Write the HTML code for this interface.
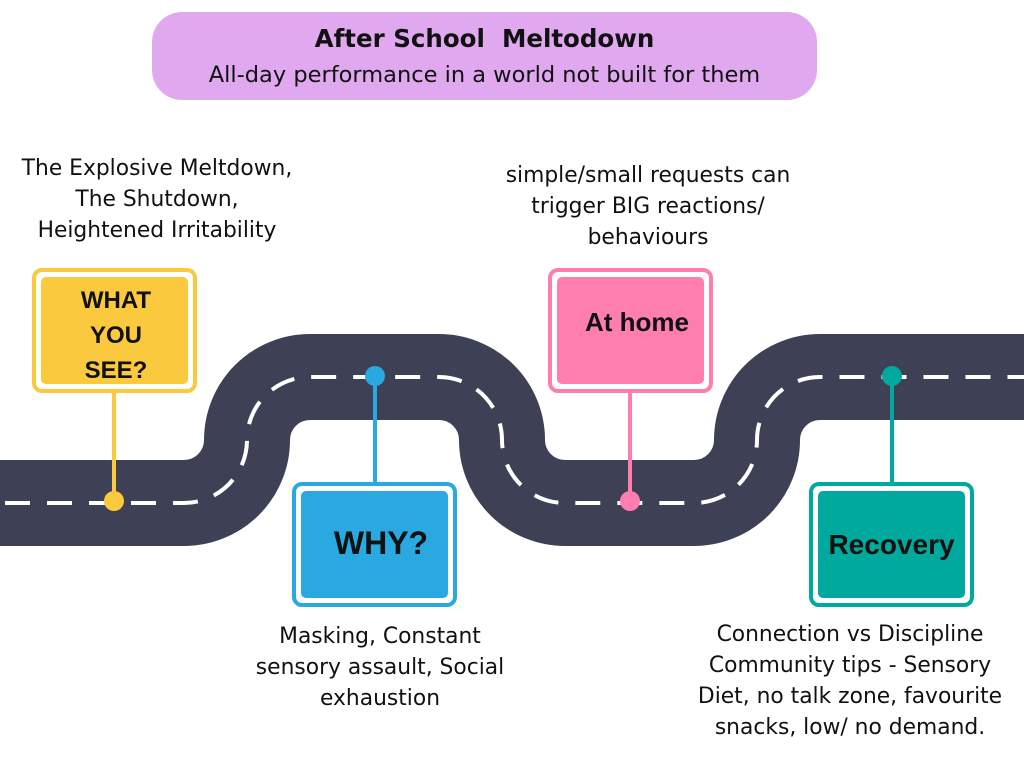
<!DOCTYPE html>
<html><head><meta charset="utf-8"><style>
body{margin:0;width:1024px;height:768px;background:#fff;overflow:hidden;font-family:"Liberation Sans",sans-serif;}
.t{position:absolute;text-align:center;color:#111;font-size:21.8px;line-height:31px;font-family:"DejaVu Sans",sans-serif;}
.b{font-family:"Liberation Sans",sans-serif;font-weight:bold;}
</style></head><body>
<svg width="1024" height="768" style="position:absolute;left:0;top:0">
<rect x="152" y="12" width="665" height="88" rx="30" fill="#e0a9ef"/>
<path d="M0 503 H184 A63 63 0 0 0 247 440 A63 63 0 0 1 310 377 H439 A63 63 0 0 1 502 440 A63 63 0 0 0 565 503 H694 A63 63 0 0 0 757 440 A63 63 0 0 1 820 377 H1030" fill="none" stroke="#3e4055" stroke-width="86"/>
<path d="M0 503 H184 A63 63 0 0 0 247 440 A63 63 0 0 1 310 377 H439 A63 63 0 0 1 502 440 A63 63 0 0 0 565 503 H694 A63 63 0 0 0 757 440 A63 63 0 0 1 820 377 H1030" fill="none" stroke="#fff" stroke-width="4" stroke-dasharray="25 17" stroke-dashoffset="-5"/>
<g stroke-width="4">
<line x1="114" y1="393" x2="114" y2="501" stroke="#fbc93d"/>
<circle cx="114" cy="501" r="10" fill="#fbc93d" stroke="none"/>
<rect x="34" y="270" width="161" height="121" rx="8" fill="#fff" stroke="#fbc93d"/>
<rect x="41" y="277" width="147" height="107" rx="5" fill="#fbc93d" stroke="none"/>
<line x1="375" y1="376" x2="375" y2="484" stroke="#2aa9e0"/>
<circle cx="375" cy="376" r="10" fill="#2aa9e0" stroke="none"/>
<rect x="294" y="484" width="161" height="121" rx="8" fill="#fff" stroke="#2aa9e0"/>
<rect x="301" y="491" width="147" height="107" rx="5" fill="#2aa9e0" stroke="none"/>
<line x1="630" y1="393" x2="630" y2="501" stroke="#ff7eb0"/>
<circle cx="630" cy="501" r="10" fill="#ff7eb0" stroke="none"/>
<rect x="550" y="270" width="161" height="121" rx="8" fill="#fff" stroke="#ff7eb0"/>
<rect x="557" y="277" width="147" height="107" rx="5" fill="#ff7eb0" stroke="none"/>
<line x1="892" y1="376" x2="892" y2="484" stroke="#00a99d"/>
<circle cx="892" cy="376" r="10" fill="#00a99d" stroke="none"/>
<rect x="811" y="484" width="161" height="121" rx="8" fill="#fff" stroke="#00a99d"/>
<rect x="818" y="491" width="147" height="107" rx="5" fill="#00a99d" stroke="none"/>
</g>
</svg>
<div class="t" style="left:152px;top:22px;width:665px;font-weight:bold;font-size:24.5px;line-height:34px">After School&nbsp; Meltodown</div>
<div class="t" style="left:152px;top:58px;width:665px;font-size:22.5px;line-height:34px">All-day performance in a world not built for them</div>
<div class="t" style="left:-10px;top:153px;width:334px">The Explosive Meltdown,<br>The Shutdown,<br>Heightened Irritability</div>
<div class="t" style="left:468px;top:160px;width:360px">simple/small requests can<br>trigger BIG reactions/<br>behaviours</div>
<div class="t" style="left:220px;top:621px;width:320px">Masking, Constant<br>sensory assault, Social<br>exhaustion</div>
<div class="t" style="left:670px;top:619px;width:360px">Connection vs Discipline<br>Community tips - Sensory<br>Diet, no talk zone, favourite<br>snacks, low/ no demand.</div>
<div class="t b" style="left:41px;top:283px;width:150px;font-size:24px;line-height:35px">WHAT<br>YOU<br>SEE?</div>
<div class="t b" style="left:301px;top:523px;width:160px;font-size:32px;line-height:40px">WHY?</div>
<div class="t b" style="left:557px;top:305px;width:160px;font-size:26px;line-height:34px">At home</div>
<div class="t b" style="left:814px;top:527px;width:155px;font-size:28px;line-height:36px">Recovery</div>
</body></html>
